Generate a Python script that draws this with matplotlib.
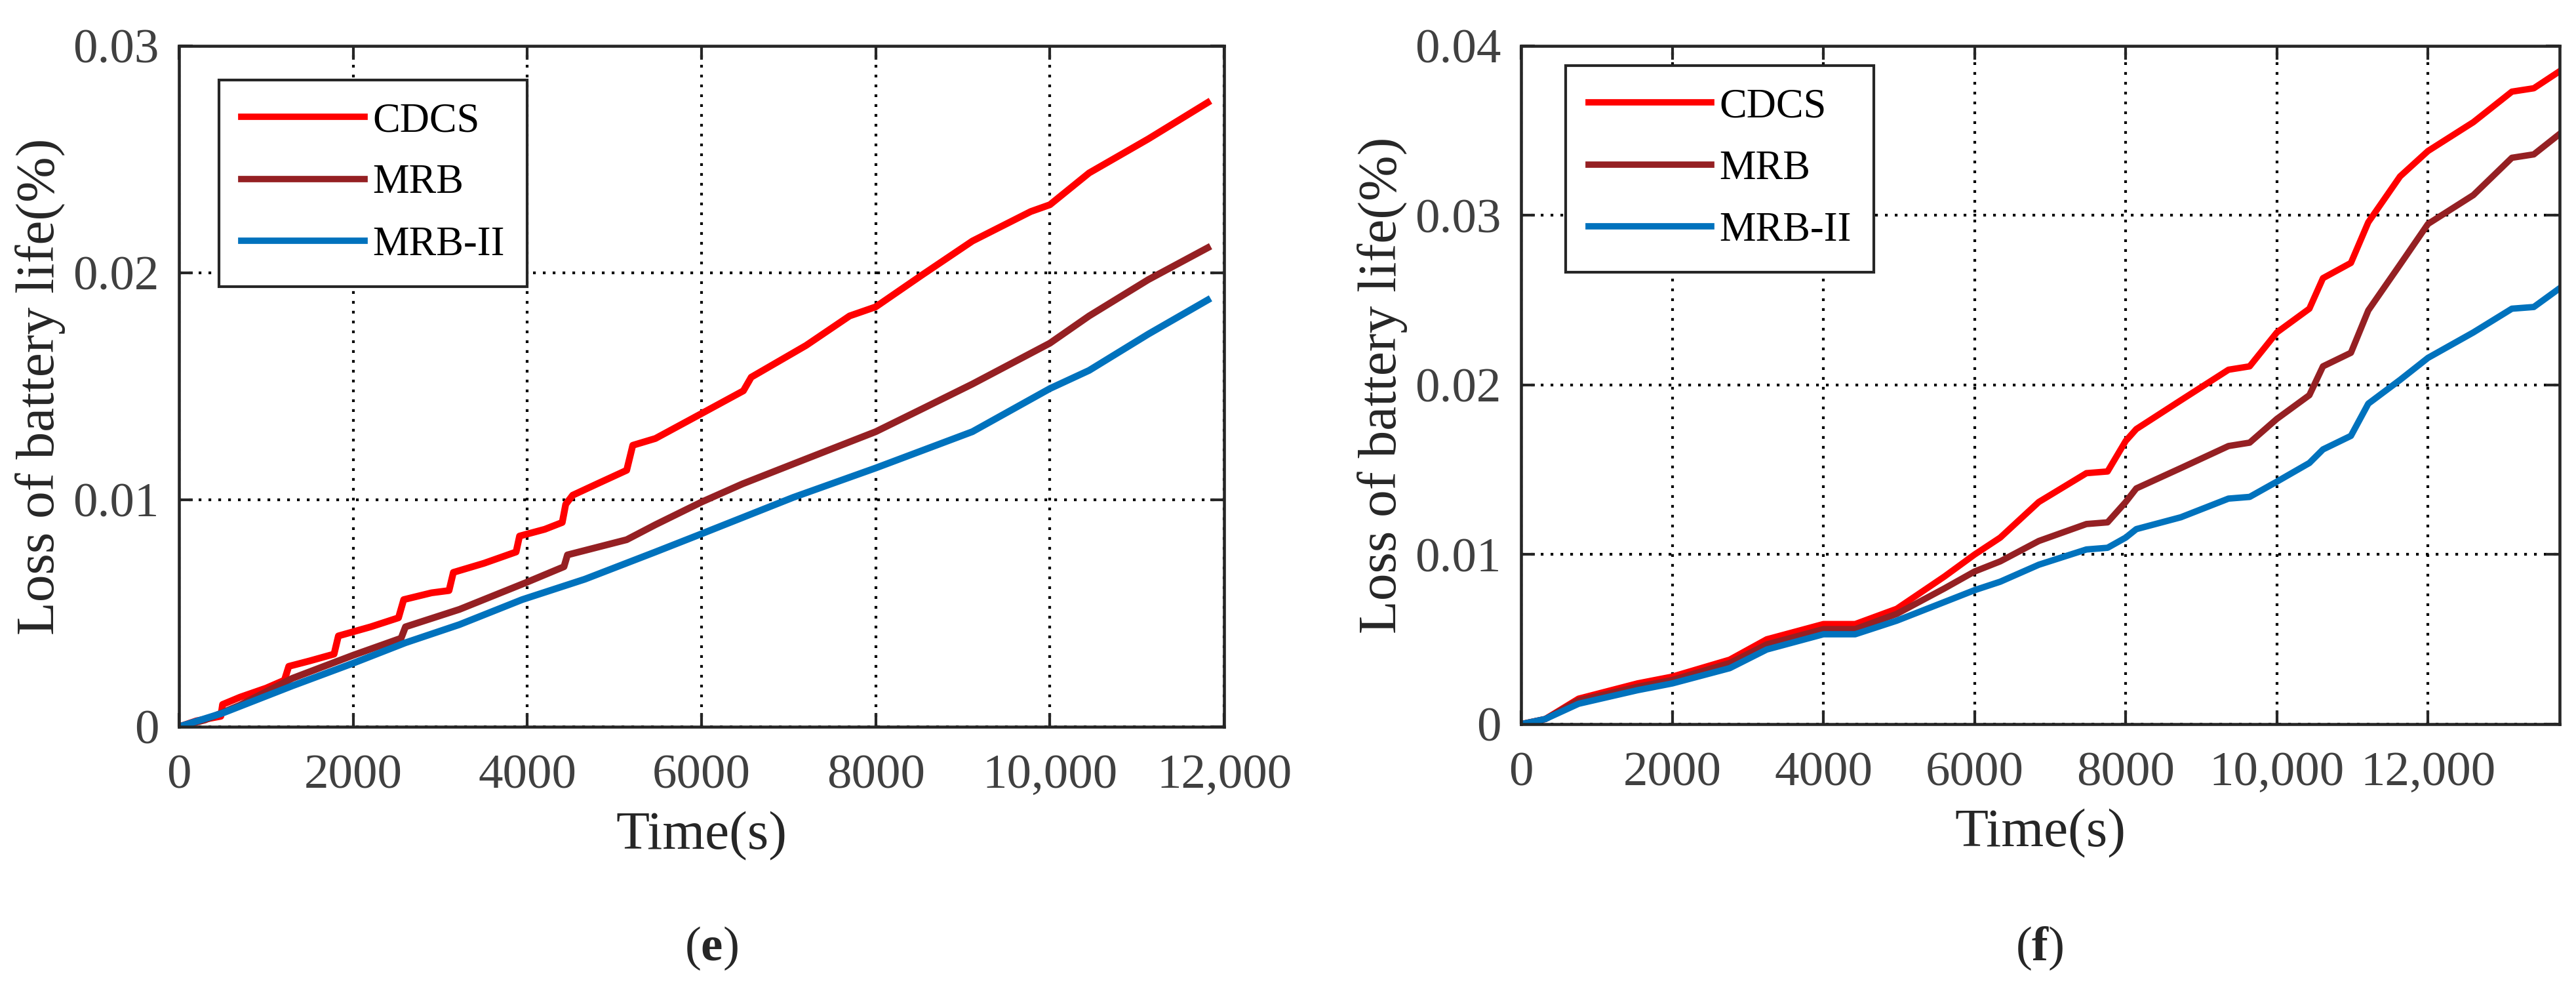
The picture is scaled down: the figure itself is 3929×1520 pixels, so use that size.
import matplotlib.pyplot as plt

# ---- data ----
# panel (e)
e_time_cdcs = [0, 200, 480, 500, 700, 1000, 1210, 1260, 1500, 1780, 1830, 2200, 2520, 2580,
               2900, 3100, 3150, 3500, 3870, 3910, 4200, 4400, 4440, 4520, 4800, 5140, 5210,
               5470, 6000, 6480, 6570, 7200, 7700, 8000, 8530, 9110, 9780, 10000, 10450, 11130,
               11810]
e_cdcs = [0, 0.00026, 0.00046, 0.00098, 0.0013, 0.0017, 0.00205, 0.00266, 0.0029, 0.0032,
          0.0040, 0.0044, 0.0048, 0.0056, 0.0059, 0.0060, 0.0068, 0.0072, 0.0077, 0.0084,
          0.0087, 0.0090, 0.0098, 0.0102, 0.0107, 0.0113, 0.0124, 0.0127,
          0.0138, 0.0148, 0.0154, 0.0168, 0.0181, 0.0185, 0.0199, 0.0214, 0.0227, 0.0230,
          0.0244, 0.0259, 0.0275]

e_time_mrb = [0, 300, 700, 1300, 2000, 2550, 2600, 3220, 3990, 4420, 4460, 5140, 5470,
              6000, 6470, 7200, 8000, 8530, 9110, 10000, 10450, 11130, 11810]
e_mrb = [0, 0.0003, 0.00095, 0.00213, 0.00315, 0.0039, 0.0044, 0.00517, 0.00636, 0.00705,
         0.00757, 0.00824, 0.0089, 0.0099, 0.0107, 0.0118, 0.0130, 0.0140, 0.0151, 0.0169,
         0.0181, 0.0197, 0.0211]

e_time_mrb2 = [0, 500, 1300, 2000, 2600, 3220, 3940, 4660, 5470, 6000, 7050, 8000, 9110,
               10000, 10450, 11130, 11810]
e_mrb2 = [0, 0.0006, 0.0018, 0.0028, 0.0037, 0.0045, 0.0056, 0.0065, 0.0077, 0.0085, 0.0101,
          0.0114, 0.0130, 0.0149, 0.0157, 0.0173, 0.0188]

# panel (f)
f_time = [0, 320, 760, 1540, 2000, 2760, 3250, 4000, 4420, 4970, 5600, 6000, 6340, 6850, 7480,
          7760, 8000, 8140, 8730, 9360, 9640, 10000, 10430, 10610, 10980, 11210, 11630, 12000,
          12600, 13110, 13400, 13740]
f_cdcs = [0, 0.0003, 0.0015, 0.0024, 0.0028, 0.0038, 0.0050, 0.0059, 0.0059, 0.0068, 0.0087,
          0.0100, 0.0110, 0.0131, 0.0148, 0.0149, 0.0167, 0.0174, 0.0191, 0.0209, 0.0211,
          0.0231, 0.0245, 0.0263, 0.0272, 0.0296, 0.0323, 0.0338, 0.0355, 0.0373, 0.0375,
          0.0385]
f_mrb = [0, 0.0003, 0.0014, 0.0022, 0.0026, 0.0036, 0.0047, 0.0056, 0.0056, 0.0065, 0.0080,
         0.0090, 0.0096, 0.0108, 0.0118, 0.0119, 0.0131, 0.0139, 0.0151, 0.0164, 0.0166,
         0.0180, 0.0194, 0.0211, 0.0219, 0.0244, 0.0271, 0.0295, 0.0312, 0.0334, 0.0336,
         0.0348]
f_mrb2 = [0, 0.0003, 0.0012, 0.0020, 0.0024, 0.0033, 0.0044, 0.0053, 0.0053, 0.0061, 0.0072,
          0.0079, 0.0084, 0.0094, 0.0103, 0.0104, 0.0110, 0.0115, 0.0122, 0.0133, 0.0134,
          0.0143, 0.0154, 0.0162, 0.0170, 0.0189, 0.0203, 0.0216, 0.0231, 0.0245, 0.0246,
          0.0257]

series_names = ['CDCS', 'MRB', 'MRB-II']
series_colors = ['#ff0000', '#952023', '#0072bd']

x_ticks = [0, 2000, 4000, 6000, 8000, 10000, 12000]
x_ticklabels = ['0', '2000', '4000', '6000', '8000', '10,000', '12,000']
e_yticks = [0, 0.01, 0.02, 0.03]
e_yticklabels = ['0', '0.01', '0.02', '0.03']
f_yticks = [0, 0.01, 0.02, 0.03, 0.04]
f_yticklabels = ['0', '0.01', '0.02', '0.03', '0.04']

plt.rcParams['font.family'] = ['Liberation Serif', 'DejaVu Serif']
plt.rcParams['mathtext.fontset'] = 'custom'
plt.rcParams['mathtext.rm'] = 'Liberation Serif'
plt.rcParams['mathtext.bf'] = 'Liberation Serif:bold'

SPINE = '#262626'
TICKC = '#404040'


def style_axes(ax, xlim, ylim, yticks, yticklabels):
    ax.set_xlim(*xlim)
    ax.set_ylim(*ylim)
    ax.set_xticks(x_ticks)
    ax.set_xticklabels(x_ticklabels)
    ax.set_yticks(yticks)
    ax.set_yticklabels(yticklabels)
    ax.grid(True, color='black', linestyle=(0, (1, 2.6)), linewidth=3.0)
    ax.tick_params(direction='in', length=15, width=3, colors=SPINE, top=True, right=True,
                   labelsize=54, labelcolor=TICKC)
    ax.tick_params(axis='x', pad=30)
    ax.tick_params(axis='y', pad=22)
    for s in ax.spines.values():
        s.set_color(SPINE)
        s.set_linewidth(3.3)
    ax.set_xlabel('Time(s)', fontsize=60, color=SPINE, labelpad=14)
    ax.set_ylabel('Loss of battery life(%)', fontsize=60, color=SPINE, labelpad=8)


fig = plt.figure(figsize=(39.29, 15.20), dpi=100)
ax1 = fig.add_axes([0.0695, 0.2711, 0.4057, 0.6829])
ax2 = fig.add_axes([0.5905, 0.2737, 0.4031, 0.6803])

for t, v, name, c in zip([e_time_cdcs, e_time_mrb, e_time_mrb2], [e_cdcs, e_mrb, e_mrb2],
                         series_names, series_colors):
    ax1.plot(t, v, color=c, linewidth=7.5, label=name, solid_joinstyle='round')
style_axes(ax1, (0, 12000), (0, 0.03), e_yticks, e_yticklabels)

for v, name, c in zip([f_cdcs, f_mrb, f_mrb2], series_names, series_colors):
    ax2.plot(f_time, v, color=c, linewidth=7, label=name, solid_joinstyle='round')
style_axes(ax2, (0, 13740), (0, 0.04), f_yticks, f_yticklabels)

for ax, anchor in [(ax1, (0.038, 0.95)), (ax2, (0.043, 0.971))]:
    leg = ax.legend(loc='upper left', bbox_to_anchor=anchor, borderaxespad=0, fontsize=45,
                    handlelength=3.0, handletextpad=0.2, labelspacing=0.58, borderpad=0.55,
                    fancybox=False, framealpha=1)
    leg.get_frame().set_edgecolor(SPINE)
    leg.get_frame().set_linewidth(3)
    for h in leg.get_lines():
        h.set_linewidth(7)

fig.text(0.2762, 0.0487, r'($\mathbf{e}$)', fontsize=54, color=SPINE, ha='center', va='center')
fig.text(0.7918, 0.0487, r'($\mathbf{f}$)', fontsize=54, color=SPINE, ha='center', va='center')

fig.savefig('out.png', dpi=100)
